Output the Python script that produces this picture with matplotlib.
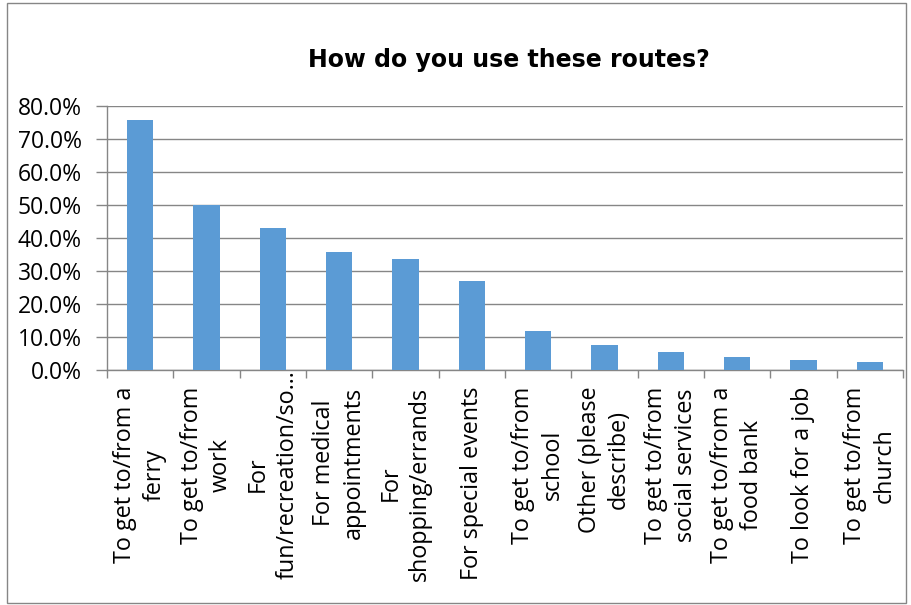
import matplotlib
matplotlib.use("Agg")
import matplotlib.pyplot as plt
from matplotlib.patches import Rectangle
from matplotlib.ticker import FuncFormatter, FixedLocator
from matplotlib.transforms import ScaledTranslation
import numpy as np

categories = [
    "To get to/from a\nferry",
    "To get to/from\nwork",
    "For\nfun/recreation/so\u2026",
    "For medical\nappointments",
    "For\nshopping/errands",
    "For special events",
    "To get to/from\nschool",
    "Other (please\ndescribe)",
    "To get to/from\nsocial services",
    "To get to/from a\nfood bank",
    "To look for a job",
    "To get to/from\nchurch",
]
values = [75.8, 50.0, 43.1, 35.8, 33.7, 27.1, 11.9, 7.7, 5.5, 4.0, 3.1, 2.5]
yticks = [0, 10, 20, 30, 40, 50, 60, 70, 80]
title = "How do you use these routes?"

plt.rcParams['font.family'] = ['Open Sans', 'DejaVu Sans']
fig = plt.figure(figsize=(9.11, 6.05), dpi=100)
ax = fig.add_axes([107/911, 1 - 370/605, (903-107)/911, (370-106)/605])

x = np.arange(len(categories))
ax.bar(x, values, width=0.4, color="#5B9BD5", zorder=3)

ax.set_xlim(-0.5, len(categories) - 0.5)
ax.set_ylim(0, 80)
ax.set_yticks(yticks)
ax.yaxis.set_major_formatter(FuncFormatter(lambda v, p: f"{v:.1f}%"))
ax.grid(axis="y", color="#868686", linewidth=1, zorder=0)

ax.set_xticks(x)
ax.set_xticklabels(categories, rotation=90, ha="center", va="top",
                   multialignment="center", fontsize=16.8, linespacing=1.3)
ax.tick_params(axis="x", which="major", length=0, pad=12)
ax.xaxis.set_minor_locator(FixedLocator(np.arange(-0.5, len(categories), 1.0)))
ax.tick_params(axis="x", which="minor", length=6, color="#868686", width=1)
ax.tick_params(axis="y", length=8, color="#868686", width=1, labelsize=16.5, pad=10)

# the overlong third label sits closer to the axis, as in the original
lab = ax.xaxis.get_major_ticks()[2].label1
lab.set_transform(lab.get_transform() + ScaledTranslation(0, 17/100, fig.dpi_scale_trans))

for s in ["top", "right"]:
    ax.spines[s].set_visible(False)
for s in ["left", "bottom"]:
    ax.spines[s].set_color("#868686")
    ax.spines[s].set_linewidth(1)

fig.text(509/911, 1 - 60/605, title, ha="center", va="center",
         fontsize=17, fontweight="bold", family=["DejaVu Sans"])

fig.patches.append(Rectangle((7/911, 2/605), (906-7)/911, (602-2)/605,
                             transform=fig.transFigure, fill=False,
                             edgecolor="#868686", linewidth=1))

fig.savefig("out.png", dpi=100, facecolor="white")
